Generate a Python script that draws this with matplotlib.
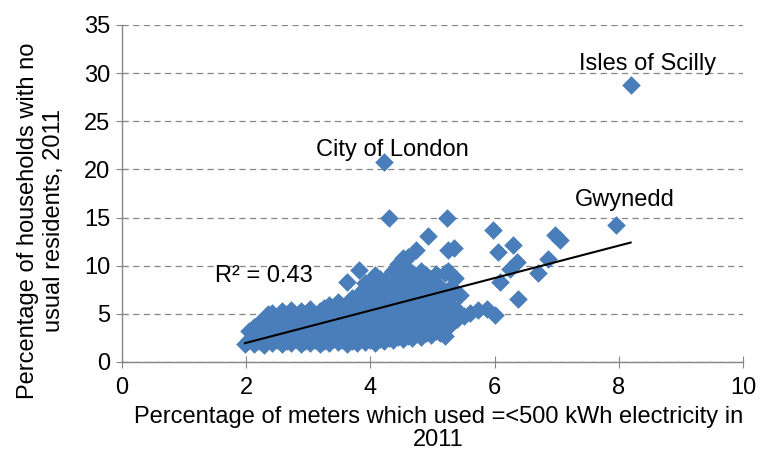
import numpy as np
import matplotlib
matplotlib.use("Agg")
import matplotlib.pyplot as plt

plt.rcParams['font.family'] = ['Liberation Sans', 'DejaVu Sans']

# % of meters using =<500 kWh (x) against % of households with no usual residents (y)
x_pct = [
    1.98,
    2.05, 2.05,
    2.12, 2.12,
    2.20, 2.20, 2.20,
    2.28, 2.28, 2.28,
    2.35, 2.35, 2.35,
    2.42, 2.42, 2.42, 2.42,
    2.50, 2.50, 2.50,
    2.58, 2.58, 2.58, 2.58,
    2.65, 2.65, 2.65, 2.65,
    2.72, 2.72, 2.72, 2.72, 2.72,
    2.80, 2.80, 2.80, 2.80,
    2.88, 2.88, 2.88, 2.88, 2.88,
    2.95, 2.95, 2.95, 2.95,
    3.02, 3.02, 3.02, 3.02, 3.02,
    3.10, 3.10, 3.10, 3.10,
    3.18, 3.18, 3.18, 3.18, 3.18,
    3.25, 3.25, 3.25, 3.25, 3.25,
    3.33, 3.33, 3.33, 3.33, 3.33,
    3.40, 3.40, 3.40, 3.40, 3.40,
    3.48, 3.48, 3.48, 3.48, 3.48,
    3.55, 3.55, 3.55, 3.55, 3.55,
    3.62, 3.62, 3.62, 3.62, 3.62, 3.62,
    3.70, 3.70, 3.70, 3.70, 3.70, 3.70,
    3.78, 3.78, 3.78, 3.78, 3.78, 3.78, 3.81,
    3.85, 3.85, 3.85, 3.85, 3.85, 3.85,
    3.92, 3.92, 3.92, 3.92, 3.92, 3.92, 3.92, 3.92,
    4.00, 4.00, 4.00, 4.00, 4.00, 4.00, 4.00, 4.08,
    4.07, 4.07, 4.07, 4.07, 4.07, 4.07, 4.07,
    4.15, 4.15, 4.15, 4.15, 4.15, 4.15, 4.15, 4.15,
    4.22, 4.22, 4.22, 4.22, 4.22, 4.22, 4.22, 4.22,
    4.30, 4.30, 4.30, 4.30, 4.30, 4.30, 4.30, 4.30, 4.30,
    4.37, 4.37, 4.37, 4.37, 4.37, 4.37, 4.37, 4.37,
    4.45, 4.45, 4.45, 4.45, 4.45, 4.45, 4.45, 4.45,
    4.52, 4.52, 4.52, 4.52, 4.52, 4.52, 4.52, 4.52, 4.52,
    4.60, 4.60, 4.60, 4.60, 4.60, 4.60, 4.60, 4.60, 4.60,
    4.67, 4.67, 4.67, 4.67, 4.67, 4.67, 4.67, 4.67,
    4.74, 4.74, 4.74, 4.74, 4.74, 4.74, 4.74, 4.74,
    4.82, 4.82, 4.82, 4.82, 4.82, 4.82, 4.82, 4.82,
    4.90, 4.90, 4.90, 4.90, 4.90, 4.90, 4.90, 4.93,
    4.97, 4.97, 4.97, 4.97, 4.97, 4.97, 4.97,
    5.05, 5.05, 5.05, 5.05, 5.05, 5.05, 5.05,
    5.12, 5.12, 5.12, 5.12, 5.12, 5.12,
    5.20, 5.20, 5.20, 5.20, 5.20, 5.20, 5.20, 5.23,
    5.25, 5.25,
    5.30, 5.30, 5.30, 5.30, 5.34,
    5.36, 5.35,
    5.40, 5.40, 5.44,
    5.50, 5.60, 5.73, 5.87, 6.00,
    5.97, 6.05, 6.09, 6.25, 6.29, 6.36, 6.38,
    6.70, 6.86, 6.97, 7.06,
    7.95, 8.19,
]
y_pct = [
    1.9,
    2.3, 3.2,
    1.9, 3.6,
    2.2, 3.0, 4.0,
    1.8, 2.6, 4.4,
    2.4, 3.4, 5.0,
    2.0, 2.9, 4.2, 5.1,
    2.3, 3.6, 4.6,
    1.9, 2.8, 3.9, 5.3,
    2.2, 3.2, 4.5, 5.0,
    2.0, 2.6, 3.5, 4.2, 5.4,
    2.4, 3.0, 3.9, 4.8,
    1.9, 2.7, 3.4, 4.4, 5.3,
    2.2, 3.1, 3.8, 5.0,
    2.0, 2.6, 3.5, 4.3, 5.5,
    2.3, 3.0, 4.0, 4.7,
    1.9, 2.7, 3.4, 4.4, 5.3,
    2.2, 3.1, 3.8, 5.0, 5.6,
    2.0, 2.6, 3.5, 4.3, 5.9,
    2.4, 3.2, 4.1, 4.8, 5.5,
    2.1, 2.8, 3.6, 4.5, 6.2,
    2.3, 3.0, 3.9, 5.1, 5.8,
    1.9, 2.6, 3.4, 4.4, 6.0, 8.3,
    2.2, 3.1, 4.0, 4.8, 5.5, 6.6,
    2.0, 2.7, 3.6, 4.5, 5.2, 6.9, 9.6,
    2.4, 3.2, 4.1, 5.0, 5.9, 7.2,
    2.1, 2.9, 3.7, 4.6, 5.4, 6.4, 7.7, 8.2,
    2.3, 3.1, 4.0, 4.9, 5.8, 7.0, 7.9, 9.0,
    2.0, 2.7, 3.5, 4.4, 5.3, 6.2, 8.2,
    2.4, 3.2, 4.1, 5.0, 5.7, 6.8, 7.6, 8.6,
    2.2, 2.9, 3.8, 4.6, 5.5, 6.3, 7.3, 20.8,
    2.5, 3.3, 4.2, 5.1, 6.0, 7.0, 8.0, 8.9, 15.0,
    2.3, 3.0, 3.9, 4.8, 5.6, 6.5, 7.6, 9.4,
    2.6, 3.5, 4.4, 5.3, 6.2, 7.2, 8.3, 10.2,
    2.4, 3.2, 4.0, 4.9, 5.8, 6.8, 7.8, 9.0, 10.8,
    2.7, 3.6, 4.5, 5.4, 6.3, 7.4, 8.5, 9.6, 10.9,
    2.5, 3.3, 4.2, 5.0, 6.0, 7.0, 8.0, 9.2,
    2.9, 3.8, 4.7, 5.6, 6.6, 7.6, 8.8, 11.6,
    2.6, 3.4, 4.3, 5.2, 6.2, 7.2, 8.4, 9.5,
    3.0, 4.0, 4.9, 5.8, 6.8, 7.9, 9.0, 13.1,
    2.8, 3.6, 4.5, 5.4, 6.4, 7.5, 8.6,
    3.2, 4.1, 5.0, 6.0, 7.0, 8.2, 9.1,
    3.0, 3.8, 4.7, 5.6, 6.6, 7.7,
    2.7, 3.5, 4.4, 5.1, 6.2, 7.3, 9.2, 15.0,
    11.6, 9.5,
    3.9, 4.8, 5.8, 7.8, 11.8,
    8.7, 7.1,
    4.5, 5.4, 7.0,
    4.8, 5.1, 5.4, 5.5, 4.9,
    13.7, 11.45, 8.3, 9.7, 12.1, 10.4, 6.5,
    9.2, 10.7, 13.2, 12.7,
    14.2, 28.8,
]

# linear trendline
trend_slope = 1.683
trend_intercept = -1.38
r_squared = 0.43

labels = ['Isles of Scilly', 'City of London', 'Gwynedd']
label_x = [8.47, 4.35, 8.10]
label_y = [31.0, 22.0, 16.8]

blue = '#4A7EBB'
grey = '#868686'
fs = 17

fig = plt.figure(figsize=(7.65, 4.62), dpi=100)
ax = fig.add_axes([0.1595, 0.2165, 0.8118, 0.7294])

ax.scatter(x_pct, y_pct, marker='D', s=90, color=blue, linewidths=0, zorder=3)

tx = np.array([min(x_pct), max(x_pct)])
ax.plot(tx, trend_slope * tx + trend_intercept, color='black', lw=1.5, zorder=4)

for name, lx, ly in zip(labels, label_x, label_y):
    ax.text(lx, ly, name, ha='center', va='center', fontsize=fs)
ax.text(2.29, 8.9, f'R² = {r_squared:.2f}', ha='center', va='center', fontsize=fs, zorder=5)

ax.set_xlim(0, 10)
ax.set_ylim(0, 35)
ax.set_xticks(range(0, 11, 2))
ax.set_yticks(range(0, 36, 5))
ax.yaxis.grid(True, color=grey, lw=0.9, linestyle=(0, (5, 3.5)))
ax.set_axisbelow(True)

for side in ['top', 'right']:
    ax.spines[side].set_visible(False)
for side in ['left', 'bottom']:
    ax.spines[side].set_color(grey)
    ax.spines[side].set_linewidth(1.0)

ax.tick_params(axis='y', direction='inout', length=9, color=grey, labelsize=fs, pad=4)
ax.tick_params(axis='x', direction='inout', length=9, color=grey, labelsize=fs, pad=6)

ax.set_xlabel('Percentage of meters which used =<500 kWh electricity in\n2011',
              fontsize=fs, labelpad=5, linespacing=1.1)
ax.set_ylabel('Percentage of households with no\nusual residents, 2011',
              fontsize=fs, labelpad=14, linespacing=1.2)
ax.yaxis.label.set_y(0.42)
ax.xaxis.label.set_x(0.51)

fig.savefig('out.png', dpi=100)
